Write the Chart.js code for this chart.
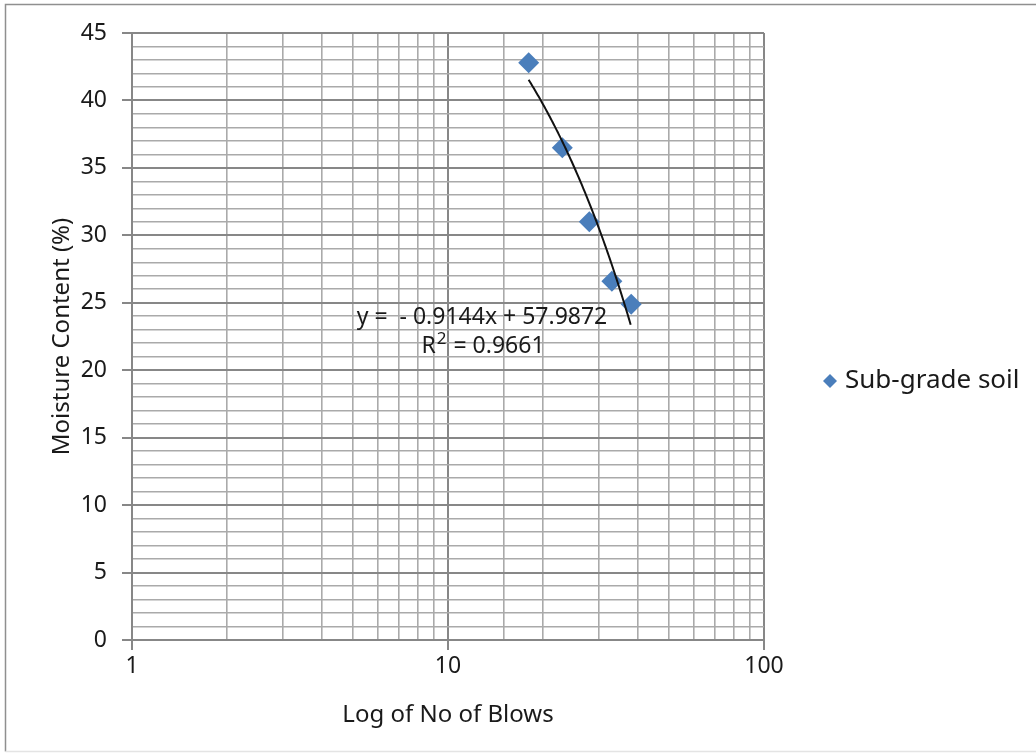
<!DOCTYPE html>
<html>
<head>
<meta charset="utf-8">
<script src="https://cdn.jsdelivr.net/npm/chart.js@4"></script>
<style>
  html, body { margin: 0; padding: 0; background: #fff; }
  #wrap { width: 1036px; height: 755px; }
</style>
</head>
<body>
<div id="wrap"><canvas id="liquid-limit-chart" width="1036" height="755"></canvas></div>
<script>
// Liquid limit test results: moisture content against number of blows
const blows = [18, 23, 28, 33, 38];
const moisture = [42.8, 36.5, 31.0, 26.6, 24.9];
const seriesName = "Sub-grade soil";

// Linear trend fitted in the spreadsheet
const trendSlope = -0.9144;
const trendIntercept = 57.9872;
const rSquared = 0.9661;

const xTickLabels = [1, 10, 100];
const yMajorStep = 5;

const FONT = "'Noto Sans', 'DejaVu Sans', sans-serif";
const TEXT = "#1a1a1a";
const MAJOR = "#878787";
const MINOR = "#aaaaaa";
const POINT = "#4a7ebb";

const isDecade = v => Number.isInteger(Math.round(Math.log10(v) * 1e6) / 1e6);

// outer frame of the chart object
const framePlugin = {
  id: "frame",
  beforeDraw(chart) {
    const { ctx, width, height } = chart;
    ctx.save();
    ctx.fillStyle = "#fff";
    ctx.fillRect(0, 0, width, height);
    ctx.strokeStyle = "#8f8f8f";
    ctx.lineWidth = 1.5;
    ctx.beginPath();
    ctx.moveTo(width + 2, 4.5);
    ctx.lineTo(5.5, 4.5);
    ctx.lineTo(5.5, height - 3.5);
    ctx.stroke();
    ctx.strokeStyle = "#e4e4e4";
    ctx.beginPath();
    ctx.moveTo(5.5, height - 3.5);
    ctx.lineTo(width + 2, height - 3.5);
    ctx.stroke();
    ctx.restore();
  }
};

// trend line y = a*x + b, bent by the log x axis
const trendPlugin = {
  id: "trend",
  afterDatasetsDraw(chart) {
    const { ctx, scales } = chart;
    const xs = scales.x, ys = scales.y;
    const p0 = xs.getPixelForValue(Math.min(...blows));
    const p1 = xs.getPixelForValue(Math.max(...blows));
    ctx.save();
    ctx.strokeStyle = "#111";
    ctx.lineWidth = 2;
    ctx.beginPath();
    for (let px = p0; px <= p1 + 0.01; px += 1) {
      const v = xs.getValueForPixel(px);
      const py = ys.getPixelForValue(trendSlope * v + trendIntercept);
      if (px === p0) ctx.moveTo(px, py); else ctx.lineTo(px, py);
    }
    ctx.stroke();

    // equation label
    const area = chart.chartArea;
    const cx = area.left + 350;
    const cy = area.top + 284;
    ctx.fillStyle = TEXT;
    ctx.font = "23px " + FONT;
    ctx.textAlign = "center";
    ctx.textBaseline = "middle";
    const eq = "y =  - " + Math.abs(trendSlope).toFixed(4) + "x + " + trendIntercept.toFixed(4);
    ctx.fillText(eq, cx, cy);

    const rest = " = " + rSquared.toFixed(4);
    ctx.font = "23px " + FONT;
    const wR = ctx.measureText("R").width;
    const wRest = ctx.measureText(rest).width;
    ctx.font = "17px " + FONT;
    const w2 = ctx.measureText("2").width;
    const total = wR + w2 + wRest;
    let x = cx - total / 2;
    const y2 = cy + 29;
    ctx.textAlign = "left";
    ctx.font = "23px " + FONT;
    ctx.fillText("R", x, y2);
    x += wR;
    ctx.font = "17px " + FONT;
    ctx.fillText("2", x + 1, y2 - 7);
    x += w2 + 2;
    ctx.font = "23px " + FONT;
    ctx.fillText(rest, x, y2);
    ctx.restore();
  }
};

// legend on the right, outside the plot
const sideLegendPlugin = {
  id: "sideLegend",
  afterDraw(chart) {
    const { ctx } = chart;
    const area = chart.chartArea;
    const lx = area.right + 66;
    const ly = 381;
    ctx.save();
    ctx.fillStyle = POINT;
    ctx.beginPath();
    ctx.moveTo(lx, ly - 7);
    ctx.lineTo(lx + 7, ly);
    ctx.lineTo(lx, ly + 7);
    ctx.lineTo(lx - 7, ly);
    ctx.closePath();
    ctx.fill();
    ctx.fillStyle = TEXT;
    ctx.font = "26px " + FONT;
    ctx.textAlign = "left";
    ctx.textBaseline = "middle";
    ctx.fillText(chart.data.datasets[0].label, lx + 15, ly);
    ctx.restore();
  }
};

const ctx = document.getElementById("liquid-limit-chart");
new Chart(ctx, {
  type: "scatter",
  data: {
    datasets: [
      {
        label: seriesName,
        data: blows.map((b, i) => ({ x: b, y: moisture[i] })),
        pointStyle: "rectRot",
        pointRadius: 10.5,
        pointHoverRadius: 10.5,
        backgroundColor: POINT,
        borderColor: POINT,
        borderWidth: 0,
      },
    ],
  },
  options: {
    responsive: false,
    animation: false,
    devicePixelRatio: 1,
    layout: { padding: { left: 44, top: 33, right: 272, bottom: 21 } },
    plugins: {
      legend: { display: false },
      tooltip: { enabled: false },
    },
    scales: {
      x: {
        type: "logarithmic",
        min: 1,
        max: 100,
        afterFit(scale) { scale.height = 94; },
        ticks: {
          autoSkip: false,
          maxRotation: 0,
          padding: 3,
          color: TEXT,
          font: { family: FONT, size: 23 },
          callback: v => (xTickLabels.includes(v) ? String(v) : ""),
        },
        grid: {
          color: c => (c.tick && isDecade(c.tick.value) ? MAJOR : MINOR),
          lineWidth: c => (c.tick && isDecade(c.tick.value) ? 2 : 1.6),
          tickLength: 10,
          tickColor: c => (c.tick && isDecade(c.tick.value) ? MAJOR : "rgba(0,0,0,0)"),
        },
        border: { color: MAJOR, width: 2 },
        title: {
          display: true,
          text: "Log of No of Blows",
          color: TEXT,
          font: { family: FONT, size: 24 },
        },
      },
      y: {
        min: 0,
        max: 45,
        afterFit(scale) { scale.width = 88; },
        ticks: {
          stepSize: 1,
          autoSkip: false,
          padding: 15,
          color: TEXT,
          font: { family: FONT, size: 23 },
          callback: v => (v % yMajorStep === 0 ? String(v) : ""),
        },
        grid: {
          color: c => (c.tick && c.tick.value % yMajorStep === 0 ? MAJOR : MINOR),
          lineWidth: c => (c.tick && c.tick.value % yMajorStep === 0 ? 2 : 1.6),
          tickLength: 10,
          tickColor: c => (c.tick && c.tick.value % yMajorStep === 0 ? MAJOR : "rgba(0,0,0,0)"),
        },
        border: { color: MAJOR, width: 2 },
        title: {
          display: true,
          text: "Moisture Content (%)",
          color: TEXT,
          font: { family: FONT, size: 24 },
        },
      },
    },
  },
  plugins: [framePlugin, trendPlugin, sideLegendPlugin],
});
</script>
</body>
</html>
